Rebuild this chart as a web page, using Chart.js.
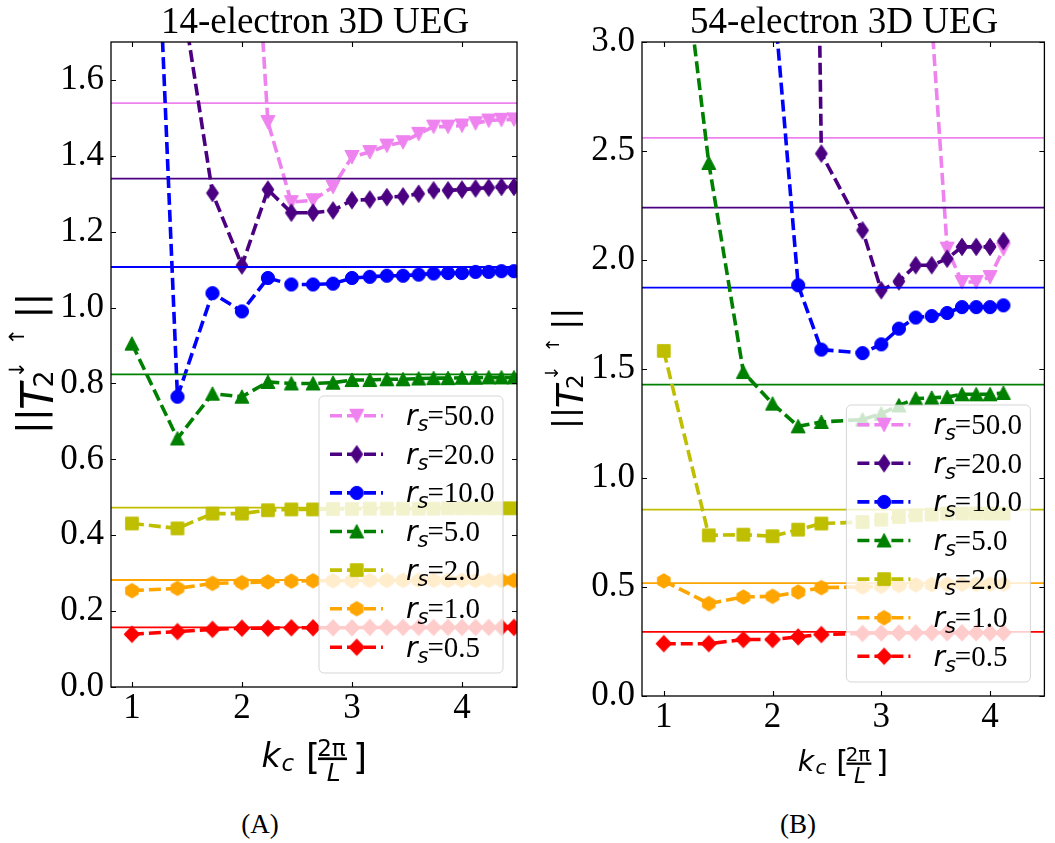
<!DOCTYPE html>
<html>
<head>
<meta charset="utf-8">
<script src="https://cdn.jsdelivr.net/npm/chart.js@4.4.1/dist/chart.umd.min.js"></script>
<style>
  body { margin: 0; background: #fff; }
  #wrap { position: relative; width: 1055px; height: 843px; overflow: hidden; }
  canvas { position: absolute; top: 0; }
  .cap { position: absolute; top: 809px; width: 120px; text-align: center;
         font: small-caps 27px "Liberation Serif", serif; color: #000; }
</style>
</head>
<body>
<div id="wrap">
  <canvas id="left" width="530" height="800" style="left:0;width:530px;height:800px"></canvas>
  <canvas id="right" width="525" height="800" style="left:530px;width:525px;height:800px"></canvas>
  <div class="cap" style="left:200px">(A)</div>
  <div class="cap" style="left:738px">(B)</div>
</div>
<script>
// legend order: rs = 50, 20, 10, 5, 2, 1, 0.5
const rsLabels = ["50.0", "20.0", "10.0", "5.0", "2.0", "1.0", "0.5"];
const colors = ["#ee82ee", "#4b0082", "#0000ff", "#008000", "#bfbf00", "#ffa500", "#ff0000"];
const markers = ["triDown", "thinDiamond", "circle", "triUp", "square", "hexagon", "diamond"];

// 14-electron gas, kc in units of 2pi/L
const kc14 = [1.000, 1.414, 1.732, 2.000, 2.236, 2.449, 2.646, 2.828, 3.000, 3.162,
              3.317, 3.464, 3.606, 3.742, 3.873, 4.000, 4.123, 4.243, 4.359, 4.472];
const rs50_14 = [null, null, null, 2.60, 1.489, 1.278, 1.283, 1.318, 1.397, 1.410,
                 1.427, 1.436, 1.458, 1.477, 1.477, 1.480, 1.486, 1.493, 1.495, 1.496];
const rs20_14 = [null, 1.90, 1.302, 1.111, 1.311, 1.250, 1.250, 1.256, 1.283, 1.285,
                 1.291, 1.293, 1.300, 1.309, 1.309, 1.311, 1.314, 1.316, 1.318, 1.318];
const rs10_14 = [3.63, 0.765, 1.038, 0.990, 1.078, 1.061, 1.061, 1.063, 1.078, 1.081,
                 1.084, 1.084, 1.087, 1.090, 1.091, 1.091, 1.094, 1.094, 1.096, 1.096];
const rs5_14 = [0.905, 0.655, 0.773, 0.765, 0.804, 0.800, 0.800, 0.802, 0.809, 0.809,
                0.811, 0.811, 0.813, 0.814, 0.814, 0.815, 0.815, 0.816, 0.816, 0.816];
const rs2_14 = [0.431, 0.418, 0.457, 0.457, 0.466, 0.468, 0.468, 0.469, 0.469, 0.470,
                0.470, 0.470, 0.470, 0.470, 0.471, 0.471, 0.471, 0.471, 0.471, 0.471];
const rs1_14 = [0.254, 0.260, 0.273, 0.275, 0.277, 0.279, 0.280, 0.280, 0.280, 0.281,
                0.281, 0.281, 0.281, 0.281, 0.281, 0.281, 0.281, 0.281, 0.281, 0.281];
const rs05_14 = [0.139, 0.146, 0.152, 0.155, 0.155, 0.156, 0.156, 0.156, 0.156, 0.157,
                 0.157, 0.157, 0.157, 0.157, 0.157, 0.157, 0.157, 0.157, 0.157, 0.157];
const ref14 = [1.539, 1.340, 1.107, 0.824, 0.473, 0.282, 0.157];

// 54-electron gas
const kc54 = [1.000, 1.414, 1.732, 2.000, 2.236, 2.449, 2.828, 3.000,
              3.162, 3.317, 3.464, 3.606, 3.742, 3.873, 4.000, 4.123];
const rs50_54 = [null, null, null, null, null, null, null, null,
                 null, null, 3.10, 2.052, 1.899, 1.899, 1.922, 2.050];
const rs20_54 = [null, null, null, null, 10.0, 2.488, 2.136, 1.861,
                 1.902, 1.976, 1.976, 2.006, 2.060, 2.060, 2.060, 2.087];
const rs10_54 = [null, null, null, 3.28, 1.884, 1.589, 1.573, 1.613,
                 1.685, 1.736, 1.743, 1.757, 1.784, 1.784, 1.784, 1.792];
const rs5_54 = [4.15, 2.445, 1.486, 1.341, 1.237, 1.257, 1.268, 1.295,
                1.333, 1.364, 1.368, 1.371, 1.384, 1.384, 1.384, 1.390];
const rs2_54 = [1.583, 0.737, 0.740, 0.733, 0.763, 0.791, 0.798, 0.809,
                0.821, 0.829, 0.832, 0.837, 0.837, 0.837, 0.837, 0.837];
const rs1_54 = [0.528, 0.424, 0.454, 0.457, 0.477, 0.497, 0.500, 0.503,
                0.507, 0.510, 0.511, 0.513, 0.513, 0.513, 0.513, 0.513];
const rs05_54 = [0.240, 0.240, 0.259, 0.259, 0.271, 0.282, 0.287, 0.289,
                 0.289, 0.290, 0.290, 0.290, 0.290, 0.290, 0.290, 0.290];
const ref54 = [2.560, 2.240, 1.873, 1.428, 0.855, 0.518, 0.294];

const xTicks = [1, 2, 3, 4];

// marker sprites, used by the lines and by the legend
function makeMarker(shape, color) {
  const c = document.createElement("canvas");
  c.width = 24; c.height = 24;
  const g = c.getContext("2d");
  const m = 12;
  g.fillStyle = color; g.strokeStyle = color; g.lineWidth = 1;
  g.beginPath();
  switch (shape) {
    case "triDown": g.moveTo(m - 7, m - 6.5); g.lineTo(m + 7, m - 6.5); g.lineTo(m, m + 7); break;
    case "triUp": g.moveTo(m - 7, m + 6.5); g.lineTo(m + 7, m + 6.5); g.lineTo(m, m - 7); break;
    case "circle": g.arc(m, m, 6.6, 0, Math.PI * 2); break;
    case "square": g.rect(m - 6.3, m - 6.3, 12.6, 12.6); break;
    case "diamond": g.moveTo(m, m - 8.3); g.lineTo(m + 7.8, m); g.lineTo(m, m + 8.3); g.lineTo(m - 7.8, m); break;
    case "thinDiamond": g.moveTo(m, m - 8.7); g.lineTo(m + 6, m); g.lineTo(m, m + 8.7); g.lineTo(m - 6, m); break;
    case "hexagon":
      for (let i = 0; i < 6; i++) {
        const a = Math.PI / 2 + i * Math.PI / 3;
        const px = m + 7.2 * Math.cos(a), py = m - 7.2 * Math.sin(a);
        if (i) g.lineTo(px, py); else g.moveTo(px, py);
      }
      break;
  }
  g.closePath(); g.fill(); g.stroke();
  return c;
}
const sprites = markers.map((s, i) => makeMarker(s, colors[i]));

// draw text so that its ink box is centred on (x, y)
function inkText(ctx, t, x, y) {
  ctx.textAlign = "left"; ctx.textBaseline = "alphabetic";
  const m = ctx.measureText(t);
  ctx.fillText(t, x - (m.actualBoundingBoxRight - m.actualBoundingBoxLeft) / 2,
               y - (m.actualBoundingBoxDescent - m.actualBoundingBoxAscent) / 2);
}

function drawYTitle(ctx, cx, cy, s) {
  const parts = [
    { t: "||", size: 38, it: false, along: -57, dx: 0 },
    { t: "T", size: 44, it: true, along: -30, dx: 2.5 },
    { t: "2", size: 27, it: false, along: -15, dx: 9 },
    { t: "\u2193", size: 21, it: false, along: -5, dx: -17.5 },
    { t: "\u2191", size: 21, it: false, along: 28, dx: -17.5 },
    { t: "||", size: 38, it: false, along: 58.5, dx: 0 },
  ];
  ctx.save();
  ctx.translate(cx, cy);
  ctx.rotate(-Math.PI / 2);
  ctx.fillStyle = "#000";
  parts.forEach(p => {
    ctx.font = `${p.it ? "italic " : ""}${p.size * s}px "DejaVu Sans"`;
    inkText(ctx, p.t, p.along * s, p.dx * s);
  });
  ctx.restore();
}

function drawXLabel(ctx, cx, cy, s) {
  const f = (size, it) => `${it ? "italic " : ""}${size * s}px "DejaVu Sans"`;
  ctx.save();
  ctx.fillStyle = "#000";
  ctx.font = f(33, true); inkText(ctx, "k", cx - 40 * s, cy - 4 * s);
  ctx.font = f(23, true); inkText(ctx, "c", cx - 24 * s, cy + 6 * s);
  ctx.font = f(36, false); inkText(ctx, "[", cx + 0.5 * s, cy);
  ctx.font = f(23, false); inkText(ctx, "2\u03c0", cx + 19.5 * s, cy - 10.8 * s);
  ctx.fillRect(cx + 5.5 * s, cy - 0.5 * s, 29 * s, 2.6 * s);
  ctx.font = f(25, true); inkText(ctx, "L", cx + 20.8 * s, cy + 14.2 * s);
  ctx.font = f(36, false); inkText(ctx, "]", cx + 47.5 * s, cy);
  ctx.restore();
}

function drawLegend(ctx, a) {
  const w = 184, h = 277;
  const left = a.right - 14 - w, top = a.bottom - 14 - h;
  ctx.save();
  ctx.beginPath();
  ctx.roundRect(left, top, w, h, 5);
  ctx.fillStyle = "rgba(255,255,255,0.8)";
  ctx.fill();
  ctx.strokeStyle = "rgba(204,204,204,0.8)";
  ctx.lineWidth = 1;
  ctx.stroke();
  rsLabels.forEach((lab, i) => {
    const cy = top + 19.7 + i * 38.6;
    ctx.strokeStyle = colors[i];
    ctx.lineWidth = 3.6;
    ctx.setLineDash([12, 5]);
    ctx.beginPath();
    ctx.moveTo(left + 11, cy); ctx.lineTo(left + 64, cy);
    ctx.stroke();
    ctx.setLineDash([]);
    ctx.drawImage(sprites[i], left + 37.7 - 12, cy - 12);
    ctx.fillStyle = "#000";
    ctx.textAlign = "left"; ctx.textBaseline = "alphabetic";
    let x = left + 87;
    ctx.font = 'italic 28px "DejaVu Sans"';
    ctx.fillText("r", x, cy + 9.5);
    x += ctx.measureText("r").width;
    ctx.font = 'italic 21px "DejaVu Sans"';
    ctx.fillText("s", x, cy + 15.5);
    x += ctx.measureText("s").width - 1;
    ctx.font = '29px "Liberation Serif"';
    ctx.fillText("=" + lab, x, cy + 9.5);
  });
  ctx.restore();
}

function framePlugin(p) {
  return {
    id: "frame",
    afterDatasetsDraw(chart) {
      const { ctx, chartArea: a, scales: { x, y } } = chart;
      drawLegend(ctx, a);
      ctx.save();
      ctx.strokeStyle = "#000";
      ctx.lineWidth = 1.3;
      ctx.strokeRect(a.left, a.top, a.right - a.left, a.bottom - a.top);
      ctx.beginPath();
      x.ticks.forEach(t => {
        const px = Math.round(x.getPixelForValue(t.value)) + 0.5;
        ctx.moveTo(px, a.bottom); ctx.lineTo(px, a.bottom - 5);
        ctx.moveTo(px, a.top); ctx.lineTo(px, a.top + 5);
      });
      y.ticks.forEach(t => {
        const py = Math.round(y.getPixelForValue(t.value)) + 0.5;
        ctx.moveTo(a.left, py); ctx.lineTo(a.left + 5, py);
        ctx.moveTo(a.right, py); ctx.lineTo(a.right - 5, py);
      });
      ctx.lineWidth = 1.1;
      ctx.stroke();
      ctx.restore();
    },
    afterDraw(chart) {
      const { ctx, chartArea: a } = chart;
      const mid = (a.left + a.right) / 2;
      ctx.save();
      ctx.fillStyle = "#000";
      ctx.font = '37px "Liberation Serif"';
      ctx.textAlign = "center"; ctx.textBaseline = "alphabetic";
      ctx.fillText(p.title, mid + 1, 33);
      ctx.restore();
      drawYTitle(ctx, a.left + p.yTitleDx, (a.top + a.bottom) / 2, p.s);
      drawXLabel(ctx, mid - 1.5, a.bottom + p.xLabelDy, p.s);
    }
  };
}

function buildDatasets(kc, series, refs, xMin, xMax) {
  const sets = [];
  series.forEach((vals, i) => {
    sets.push({
      data: kc.map((k, j) => ({ x: k, y: vals[j] })).filter(d => d.y !== null),
      borderColor: colors[i],
      backgroundColor: colors[i],
      borderWidth: 3.6,
      borderDash: [12, 5],
      pointStyle: sprites[i],
      pointRadius: 7,
      pointHoverRadius: 7,
      tension: 0,
      fill: false,
    });
    sets.push({
      data: [{ x: xMin, y: refs[i] }, { x: xMax, y: refs[i] }],
      borderColor: colors[i],
      borderWidth: 1.8,
      pointRadius: 0,
      fill: false,
    });
  });
  // index 0 is drawn on top in Chart.js, matplotlib drew the last series on top
  return sets.reverse();
}

const panels = [
  { id: "left", title: "14-electron 3D UEG", kc: kc14,
    series: [rs50_14, rs20_14, rs10_14, rs5_14, rs2_14, rs1_14, rs05_14], refs: ref14,
    xMin: 0.81, xMax: 4.5, yMax: 1.7, yStep: 0.2,
    padTop: 42, padRight: 13, yWidth: 111, xHeight: 113,
    s: 1, yTitleDx: -77.5, xLabelDy: 71 },
  { id: "right", title: "54-electron 3D UEG", kc: kc54,
    series: [rs50_54, rs20_54, rs10_54, rs5_54, rs2_54, rs1_54, rs05_54], refs: ref54,
    xMin: 0.80, xMax: 4.5, yMax: 3.0, yStep: 0.5,
    padTop: 42, padRight: 2, yWidth: 112, xHeight: 104,
    s: 0.86, yTitleDx: -75, xLabelDy: 67 },
];

panels.forEach(p => {
  const tickFont = { family: "Liberation Serif", size: 35 };
  new Chart(document.getElementById(p.id), {
    type: "line",
    data: { datasets: buildDatasets(p.kc, p.series, p.refs, p.xMin, p.xMax) },
    options: {
      responsive: false,
      animation: false,
      devicePixelRatio: 1,
      layout: { padding: { top: p.padTop, right: p.padRight, left: 0, bottom: 0 } },
      plugins: { legend: { display: false }, title: { display: false }, tooltip: { enabled: false } },
      events: [],
      scales: {
        x: {
          type: "linear",
          min: p.xMin, max: p.xMax,
          grid: { display: false, drawTicks: false },
          border: { display: false },
          afterBuildTicks: scale => { scale.ticks = xTicks.map(v => ({ value: v })); },
          afterFit: scale => { scale.height = p.xHeight; },
          ticks: { font: tickFont, color: "#000", padding: 1, maxRotation: 0,
                   callback: v => v.toFixed(0) },
        },
        y: {
          type: "linear",
          min: 0, max: p.yMax,
          grid: { display: false, drawTicks: false },
          border: { display: false },
          afterFit: scale => { scale.width = p.yWidth; },
          ticks: { font: tickFont, color: "#000", padding: 7, stepSize: p.yStep,
                   includeBounds: false, callback: v => v.toFixed(1) },
        },
      },
    },
    plugins: [framePlugin(p)],
  });
});
</script>
</body>
</html>
